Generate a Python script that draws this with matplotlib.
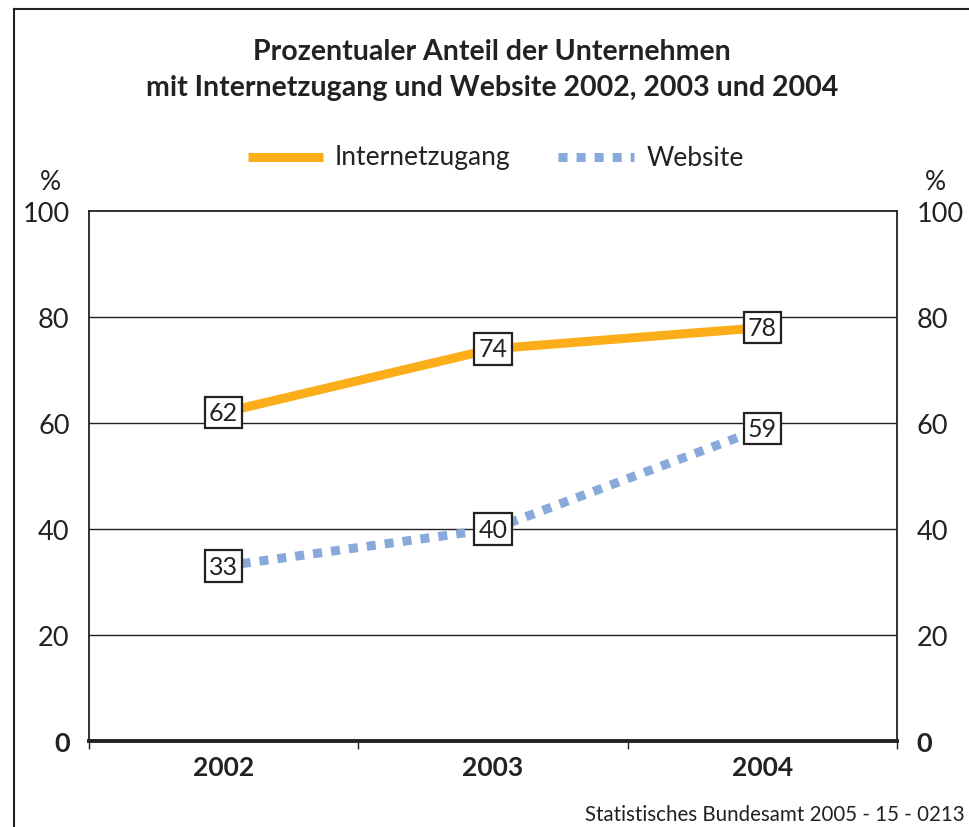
import matplotlib
matplotlib.use("Agg")
import matplotlib.pyplot as plt
from matplotlib.lines import Line2D

plt.rcParams['font.family'] = ['Lato', 'DejaVu Sans']

years = ["2002", "2003", "2004"]
internet = [62, 74, 78]
website = [33, 40, 59]
yticks = [0, 20, 40, 60, 80, 100]
title = "Prozentualer Anteil der Unternehmen\nmit Internetzugang und Website 2002, 2003 und 2004"
source = "Statistisches Bundesamt 2005 - 15 - 0213"

orange = "#FBAE1A"
blue = "#88AADB"
ink = "#222222"

fig = plt.figure(figsize=(9.7, 8.28), dpi=100)
ax = fig.add_axes([89/970, 1-742/828, (897-89)/970, (742-212)/828])

x = list(range(len(years)))
ax.plot(x, internet, color=orange, lw=6.5, solid_capstyle='butt', zorder=3)
ax.plot(x, website, color=blue, lw=6.5, dashes=(1.0, 1.0), dash_capstyle='butt', zorder=3)

for series in (internet, website):
    for xi, v in zip(x, series):
        ax.text(xi, v, str(v), ha='center', va='center', fontsize=18, color=ink, zorder=5,
                bbox=dict(boxstyle='square,pad=0.17', fc='white', ec=ink, lw=1.6))

ax.set_xlim(-0.5, 2.5)
ax.set_ylim(0, 100)
for y in yticks[1:-1]:
    ax.axhline(y, color=ink, lw=1.0, zorder=1)

for s in ['left', 'right', 'top']:
    ax.spines[s].set_color(ink)
    ax.spines[s].set_linewidth(1.3)
ax.spines['bottom'].set_color(ink)
ax.spines['bottom'].set_linewidth(2.8)

ax.set_yticks(yticks)
ax.set_yticklabels([str(t) for t in yticks])
ax.tick_params(axis='y', length=0, pad=14, labelsize=19.5, labelcolor=ink,
               left=True, right=True, labelleft=True, labelright=True)
t0 = ax.yaxis.get_major_ticks()[0]
t0.label1.set_fontweight('bold')
t0.label2.set_fontweight('bold')

ax.set_xticks([0, 1, 2])
ax.set_xticklabels(years, fontsize=19, fontweight='bold', color=ink)
ax.set_xticks([-0.5, 0.5, 1.5, 2.5], minor=True)
ax.tick_params(axis='x', which='major', length=0, pad=10)
ax.tick_params(axis='x', which='minor', length=6, width=1.0, color=ink, direction='out')

fig.text(50/970, 1-182/828, "%", ha='center', va='center', fontsize=19, color=ink)
fig.text(935/970, 1-182/828, "%", ha='center', va='center', fontsize=19, color=ink)

fig.text(492/970, 1-70/828, title, ha='center', va='center', fontsize=20.5,
         fontweight='bold', color=ink, linespacing=1.45)

# legend
ly = 1-158/828
fig.add_artist(Line2D([248/970, 323/970], [ly, ly], color=orange, lw=6.5, solid_capstyle='butt'))
fig.text(335/970, ly, "Internetzugang", ha='left', va='center', fontsize=19, color=ink)
fig.add_artist(Line2D([558/970, 634/970], [ly, ly], color=blue, lw=6.5, dashes=(1.0, 1.0), dash_capstyle='butt'))
fig.text(647/970, ly, "Website", ha='left', va='center', fontsize=19, color=ink)

fig.text(965/970, 1-815/828, source, ha='right', va='center', fontsize=14.8, color=ink)

# outer frame
fig.add_artist(Line2D([14/970, 14/970], [0, 1-10/828], color=ink, lw=1.5))
fig.add_artist(Line2D([14/970, 1], [1-10/828, 1-10/828], color=ink, lw=1.5))

fig.savefig("out.png", dpi=100)
